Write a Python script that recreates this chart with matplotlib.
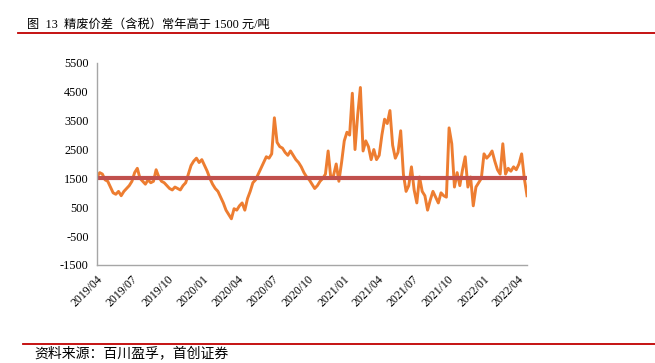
import matplotlib

matplotlib.use("Agg")
import matplotlib.pyplot as plt
import matplotlib.dates as mdates
import pandas as pd
from matplotlib.lines import Line2D

# weekly spread (yuan/ton), starting 2019-04-01
spread = [
    1550, 1700, 1650, 1450, 1400, 1200, 1000, 950, 1050, 900,
    1050, 1150, 1250, 1400, 1700, 1850, 1500, 1400, 1300, 1450,
    1350, 1400, 1800, 1550, 1400, 1350, 1250, 1150, 1100, 1200,
    1150, 1100, 1250, 1350, 1650, 1950, 2100, 2200, 2050, 2150,
    1950, 1750, 1500, 1300, 1150, 1050, 850, 650, 400, 250,
    100, 450, 400, 550, 650, 400, 800, 1050, 1350, 1450,
    1650, 1850, 2050, 2250, 2200, 2350, 3600, 2750, 2600, 2550,
    2400, 2300, 2450, 2300, 2150, 2050, 1900, 1700, 1550, 1450,
    1300, 1150, 1250, 1400, 1500, 1650, 2450, 1500, 1600, 2000,
    1400, 2050, 2800, 3100, 3000, 4450, 2500, 3700, 4650, 2450,
    2800, 2600, 2150, 2500, 2150, 2300, 3000, 3550, 3400, 3850,
    2650, 2200, 2400, 3150, 1650, 1050, 1250, 1900, 1100, 650,
    1550, 1050, 900, 400, 750, 1050, 850, 650, 1000, 900,
    850, 3250, 2700, 1200, 1700, 1250, 1800, 2250, 1200, 1550,
    550, 1200, 1350, 1500, 2350, 2200, 2300, 2450, 2100, 1800,
    1650, 2700, 1650, 1850, 1750, 1900, 1800, 2000, 2350, 1500,
    900,
]
threshold = 1500
start_date = "2019-04-01"
y_ticks = [-1500, -500, 500, 1500, 2500, 3500, 4500, 5500]
title = "图  13  精废价差（含税）常年高于 1500 元/吨"
source = "资料来源：百川盈孚，首创证券"

dates = pd.date_range(start_date, periods=len(spread), freq="7D")

fig = plt.figure(figsize=(6.55, 3.63), dpi=100)
ax = fig.add_axes([0.1481, 0.270, 0.6565, 0.5566])

ax.plot(dates, spread, color="#ED7D31", linewidth=2.1, solid_joinstyle="round")
ax.plot(dates, [threshold] * len(dates), color="#C0504D", linewidth=3.0)

ax.set_xlim(dates[0], dates[-1])
ax.set_ylim(-1500, 5500)
ax.set_yticks(y_ticks)
ax.set_yticklabels([str(v) for v in y_ticks], fontfamily="Liberation Serif", fontsize=8.8)

ax.xaxis.set_major_locator(mdates.MonthLocator(bymonth=[1, 4, 7, 10]))
ax.xaxis.set_major_formatter(mdates.DateFormatter("%Y/%m"))
for label in ax.get_xticklabels():
    label.set_fontfamily("Liberation Serif")
    label.set_fontsize(8.5)
    label.set_rotation(45)
    label.set_ha("right")
    label.set_rotation_mode("anchor")

ax.tick_params(length=0, pad=6)
for side in ("top", "right"):
    ax.spines[side].set_visible(False)
for side in ("left", "bottom"):
    ax.spines[side].set_color("#a6a6a6")
    ax.spines[side].set_linewidth(1.0)

fig.text(0.041, 0.931, title, fontsize=8.8, va="center", ha="left", weight="medium",
         family=["Liberation Serif", "Noto Sans CJK SC"])
fig.add_artist(Line2D([0.027, 1.0], [0.909, 0.909], color="#C00000", linewidth=1.3,
                      transform=fig.transFigure))
fig.add_artist(Line2D([0.035, 1.0], [0.052, 0.052], color="#C00000", linewidth=1.3,
                      transform=fig.transFigure))
fig.text(0.053, 0.026, source, fontsize=10, va="center", ha="left", style="italic",
         family=["Noto Sans CJK SC", "DejaVu Sans"])

fig.savefig("out.png", dpi=100)
